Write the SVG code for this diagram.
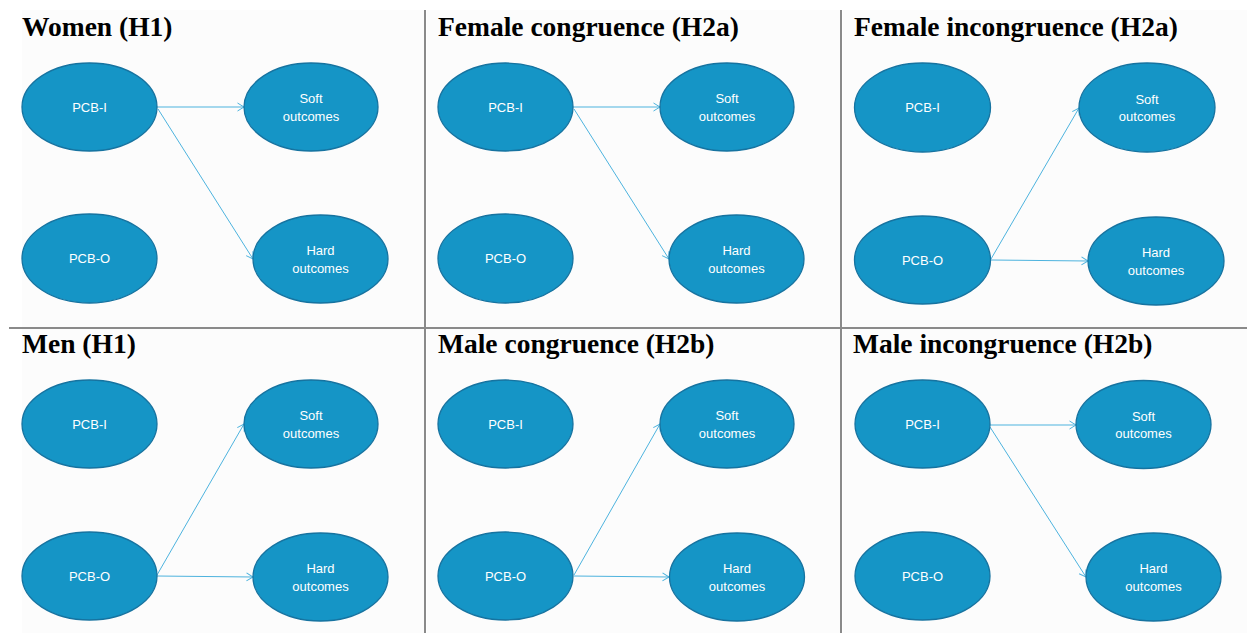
<svg xmlns="http://www.w3.org/2000/svg" width="1247" height="633" viewBox="0 0 1247 633">
<defs>
<marker id="arr" markerUnits="userSpaceOnUse" markerWidth="10" markerHeight="10" refX="8" refY="5" orient="auto">
<path d="M1.5,1 L8,5 L1.5,9" fill="none" stroke="#4db3de" stroke-width="1"/>
</marker>
</defs>
<style>
.bg{fill:#fcfcfc}
.div{stroke:#8a8a8a;stroke-width:2}
.n{fill:#1595c6;stroke:#1673a0;stroke-width:1.3}
.t{font-family:"Liberation Sans",Arial,sans-serif;font-size:13px;fill:#ffffff;text-anchor:middle}
.h{font-family:"Liberation Serif","Times New Roman",serif;font-size:27.5px;font-weight:bold;fill:#000}
.c{stroke:#4db3de;stroke-width:1;fill:none;marker-end:url(#arr)}
</style>
<rect width="1247" height="633" fill="#ffffff"/>
<g id="backgrounds">
<rect class="bg" x="22" y="10" width="402" height="317"/>
<rect class="bg" x="427" y="10" width="413" height="317"/>
<rect class="bg" x="843" y="10" width="404" height="317"/>
<rect class="bg" x="22" y="329" width="402" height="304"/>
<rect class="bg" x="427" y="329" width="413" height="304"/>
<rect class="bg" x="843" y="329" width="404" height="304"/>
</g>
<g id="dividers">
<line class="div" x1="9" y1="328" x2="1247" y2="328"/>
<line class="div" x1="425" y1="10" x2="425" y2="633"/>
<line class="div" x1="841" y1="10" x2="841" y2="633"/>
</g>
<g id="titles">
<text class="h" x="22" y="36">Women (H1)</text>
<text class="h" x="438" y="36">Female congruence (H2a)</text>
<text class="h" x="854" y="36">Female incongruence (H2a)</text>
<text class="h" x="22" y="353">Men (H1)</text>
<text class="h" x="438" y="353">Male congruence (H2b)</text>
<text class="h" x="853" y="353">Male incongruence (H2b)</text>
</g>
<g id="connectors">
<line class="c" x1="157" y1="107" x2="244" y2="107"/>
<line class="c" x1="158" y1="109" x2="253" y2="259"/>
<line class="c" x1="573" y1="107" x2="660" y2="107"/>
<line class="c" x1="574" y1="109" x2="669" y2="259"/>
<line class="c" x1="991" y1="259" x2="1079" y2="108"/>
<line class="c" x1="991" y1="260" x2="1088" y2="261"/>
<line class="c" x1="157" y1="575" x2="244" y2="424"/>
<line class="c" x1="157" y1="576" x2="253" y2="577"/>
<line class="c" x1="574" y1="575" x2="660" y2="424"/>
<line class="c" x1="574" y1="576" x2="669" y2="577"/>
<line class="c" x1="990" y1="425" x2="1076" y2="425"/>
<line class="c" x1="990" y1="427" x2="1086" y2="577"/>
</g>
<g id="women-pcbi"><ellipse class="n" cx="89.5" cy="107" rx="67.5" ry="44"/><text class="t" x="89.5" y="111.5">PCB-I</text></g>
<g id="women-soft"><ellipse class="n" cx="311" cy="107" rx="67" ry="44"/><text class="t" x="311" y="103">Soft</text><text class="t" x="311" y="120.5">outcomes</text></g>
<g id="women-pcbo"><ellipse class="n" cx="89.5" cy="258.5" rx="67.5" ry="44.5"/><text class="t" x="89.5" y="263">PCB-O</text></g>
<g id="women-hard"><ellipse class="n" cx="320.5" cy="259" rx="67.5" ry="44"/><text class="t" x="320.5" y="255">Hard</text><text class="t" x="320.5" y="273">outcomes</text></g>
<g id="fcong-pcbi"><ellipse class="n" cx="505.5" cy="107" rx="67.5" ry="44"/><text class="t" x="505.5" y="111.5">PCB-I</text></g>
<g id="fcong-soft"><ellipse class="n" cx="727" cy="107" rx="67" ry="44"/><text class="t" x="727" y="103">Soft</text><text class="t" x="727" y="120.5">outcomes</text></g>
<g id="fcong-pcbo"><ellipse class="n" cx="505.5" cy="258.5" rx="67.5" ry="44.5"/><text class="t" x="505.5" y="263">PCB-O</text></g>
<g id="fcong-hard"><ellipse class="n" cx="736.5" cy="259" rx="67.5" ry="44"/><text class="t" x="736.5" y="255">Hard</text><text class="t" x="736.5" y="273">outcomes</text></g>
<g id="finc-pcbi"><ellipse class="n" cx="922.5" cy="107.5" rx="68" ry="44.5"/><text class="t" x="922.5" y="112">PCB-I</text></g>
<g id="finc-soft"><ellipse class="n" cx="1147" cy="107.5" rx="68" ry="44.5"/><text class="t" x="1147" y="103.5">Soft</text><text class="t" x="1147" y="121">outcomes</text></g>
<g id="finc-pcbo"><ellipse class="n" cx="922.5" cy="260" rx="68" ry="44"/><text class="t" x="922.5" y="264.5">PCB-O</text></g>
<g id="finc-hard"><ellipse class="n" cx="1156" cy="261" rx="68" ry="44"/><text class="t" x="1156" y="257">Hard</text><text class="t" x="1156" y="275">outcomes</text></g>
<g id="men-pcbi"><ellipse class="n" cx="89.5" cy="424" rx="67.5" ry="44"/><text class="t" x="89.5" y="428.5">PCB-I</text></g>
<g id="men-soft"><ellipse class="n" cx="311" cy="424" rx="67" ry="44"/><text class="t" x="311" y="420">Soft</text><text class="t" x="311" y="437.5">outcomes</text></g>
<g id="men-pcbo"><ellipse class="n" cx="89.5" cy="576" rx="67.5" ry="44"/><text class="t" x="89.5" y="580.5">PCB-O</text></g>
<g id="men-hard"><ellipse class="n" cx="320.5" cy="577" rx="67.5" ry="44"/><text class="t" x="320.5" y="573">Hard</text><text class="t" x="320.5" y="591">outcomes</text></g>
<g id="mcong-pcbi"><ellipse class="n" cx="505.5" cy="424" rx="67.5" ry="44"/><text class="t" x="505.5" y="428.5">PCB-I</text></g>
<g id="mcong-soft"><ellipse class="n" cx="727" cy="424" rx="67" ry="44"/><text class="t" x="727" y="420">Soft</text><text class="t" x="727" y="437.5">outcomes</text></g>
<g id="mcong-pcbo"><ellipse class="n" cx="505.5" cy="576" rx="67.5" ry="44"/><text class="t" x="505.5" y="580.5">PCB-O</text></g>
<g id="mcong-hard"><ellipse class="n" cx="737" cy="577" rx="67.5" ry="44"/><text class="t" x="737" y="573">Hard</text><text class="t" x="737" y="591">outcomes</text></g>
<g id="minc-pcbi"><ellipse class="n" cx="922.5" cy="424" rx="67.5" ry="44"/><text class="t" x="922.5" y="428.5">PCB-I</text></g>
<g id="minc-soft"><ellipse class="n" cx="1143.5" cy="424.5" rx="67.5" ry="44"/><text class="t" x="1143.5" y="420.5">Soft</text><text class="t" x="1143.5" y="438">outcomes</text></g>
<g id="minc-pcbo"><ellipse class="n" cx="922.5" cy="576" rx="67.5" ry="44"/><text class="t" x="922.5" y="580.5">PCB-O</text></g>
<g id="minc-hard"><ellipse class="n" cx="1153.5" cy="577" rx="67.5" ry="44"/><text class="t" x="1153.5" y="573">Hard</text><text class="t" x="1153.5" y="591">outcomes</text></g>
</svg>
